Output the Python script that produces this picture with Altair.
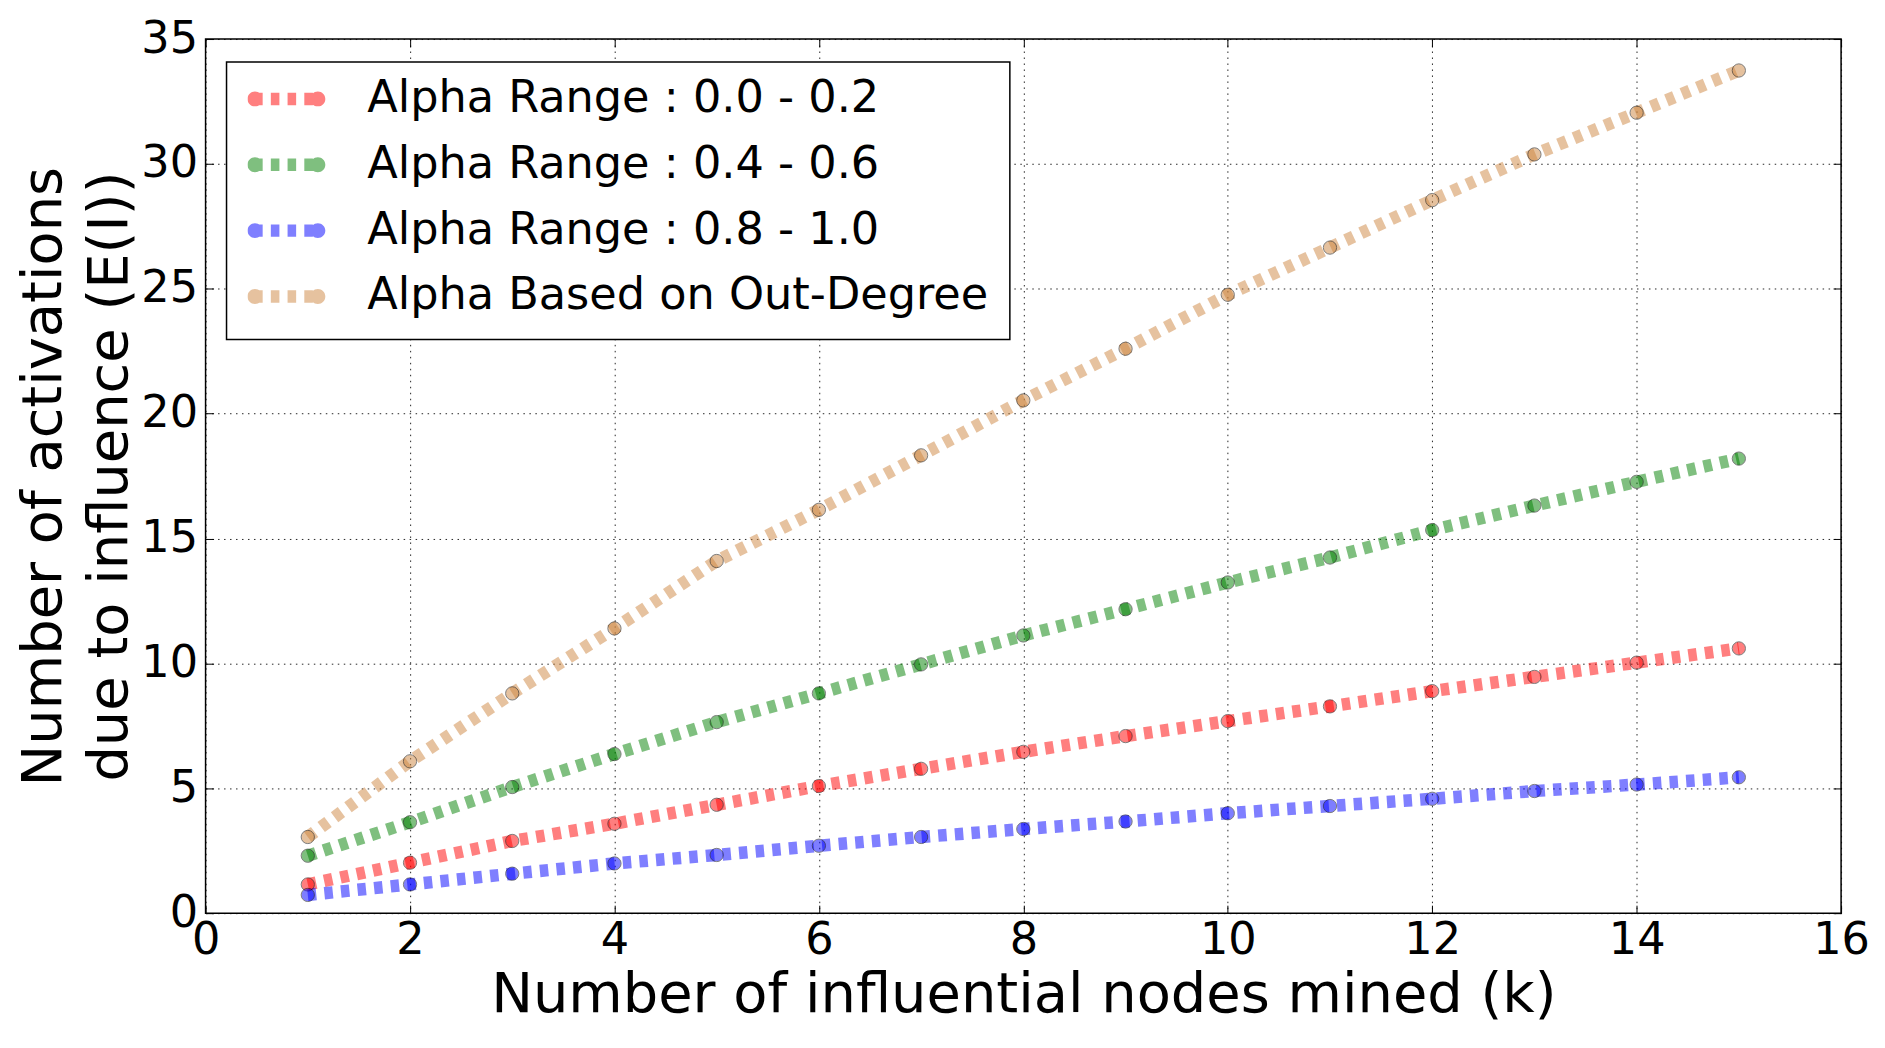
import altair as alt
import pandas as pd

# ---------------- data ----------------
k_values = list(range(1, 16))
series_names = [
    "Alpha Range : 0.0 - 0.2",
    "Alpha Range : 0.4 - 0.6",
    "Alpha Range : 0.8 - 1.0",
    "Alpha Based on Out-Degree",
]
red_vals = [1.15, 2.02, 2.89, 3.58, 4.34, 5.09, 5.78, 6.46, 7.09, 7.69, 8.28, 8.89, 9.46, 10.03, 10.60]
green_vals = [2.30, 3.64, 5.05, 6.37, 7.65, 8.80, 9.96, 11.12, 12.17, 13.24, 14.24, 15.34, 16.32, 17.27, 18.20]
blue_vals = [0.73, 1.15, 1.58, 1.99, 2.33, 2.70, 3.05, 3.37, 3.67, 4.00, 4.29, 4.58, 4.89, 5.15, 5.44]
orange_vals = [3.05, 6.08, 8.80, 11.40, 14.10, 16.15, 18.33, 20.53, 22.60, 24.76, 26.65, 28.55, 30.38, 32.05, 33.74]
series_colors = ["#ff0000", "#008000", "#0000ff", "#cd853f"]
x_ticks = [0, 2, 4, 6, 8, 10, 12, 14, 16]
y_ticks = [0, 5, 10, 15, 20, 25, 30, 35]
x_title = "Number of influential nodes mined (k)"
y_title = ["Number of activations", "due to influence (E(I))"]

rows = []
for name, vals in zip(series_names, [red_vals, green_vals, blue_vals, orange_vals]):
    for kk, v in zip(k_values, vals):
        rows.append({"series": name, "k": kk, "value": v})
df = pd.DataFrame(rows)

# ---------------- legend symbol (dashed line with two markers) ----------------
def rect(x0, x1, h=0.16):
    return f"M{x0},{-h}H{x1}V{h}H{x0}Z"

def circ(cx, r=0.192):
    return f"M{cx + r},0A{r},{r} 0 1,1 {cx - r},0A{r},{r} 0 1,1 {cx + r},0Z"

symbol_path = "".join(
    [rect(-0.83, -0.61), rect(-0.40, -0.18), rect(0.03, 0.25), rect(0.46, 0.68), circ(-0.808), circ(0.808)]
)

W, H = 1639, 876
FONT = "DejaVu Sans"
LABEL_SIZE = 44.7
TITLE_SIZE = 56

xscale = alt.Scale(domain=[0, 16], nice=False, zero=False)
yscale = alt.Scale(domain=[0, 35], nice=False, zero=False)
cscale = alt.Scale(domain=series_names, range=series_colors)

# layer carrying the legend (zero-size points, draws nothing itself)
legend_layer = alt.Chart(df).mark_circle(size=0, opacity=0.5, strokeWidth=0).encode(
    x=alt.X("k:Q", scale=xscale, axis=None),
    y=alt.Y("value:Q", scale=yscale, axis=None),
    color=alt.Color(
        "series:N",
        scale=cscale,
        legend=alt.Legend(
            title=None, orient="none", legendX=21, legendY=23,
            symbolType=symbol_path, symbolSize=6084, symbolStrokeWidth=0,
            symbolOpacity=0.5, labelFontSize=LABEL_SIZE, labelFont=FONT, labelColor="black",
            labelOffset=42, labelLimit=2000, clipHeight=32, rowPadding=21,
            padding=21, fillColor="white", strokeColor="black",
        ),
    ),
)

lines = alt.Chart(df).mark_line(
    strokeWidth=12.5, strokeDash=[8.5, 8.2], strokeCap="butt", opacity=0.5
).encode(
    x=alt.X(
        "k:Q",
        scale=xscale,
        axis=alt.Axis(
            orient="bottom", values=x_ticks, title=x_title, offset=-8, tickSize=8,
            labelPadding=5, grid=True, titleX=W / 2, titleY=107,
            titleBaseline="alphabetic", titleAlign="center",
        ),
    ),
    y=alt.Y(
        "value:Q",
        scale=yscale,
        axis=alt.Axis(
            orient="left", values=y_ticks, title=y_title, offset=-8, tickSize=8,
            labelPadding=8, grid=True, titleX=-153.4, titleY=H / 2, titleAngle=270,
            titleBaseline="alphabetic", titleAlign="center", titleLineHeight=66,
        ),
    ),
    color=alt.Color("series:N", scale=cscale),
)

points = alt.Chart(df).mark_circle(
    size=177, opacity=0.5, stroke="black", strokeWidth=1
).encode(
    x=alt.X(
        "k:Q",
        scale=xscale,
        axis=alt.Axis(orient="top", values=x_ticks, title=None, offset=-8, tickSize=8,
                      labels=False, grid=False),
    ),
    y=alt.Y(
        "value:Q",
        scale=yscale,
        axis=alt.Axis(orient="right", values=y_ticks, title=None, offset=-8, tickSize=8,
                      labels=False, grid=False),
    ),
    color=alt.Color("series:N", scale=cscale),
)

chart = (
    alt.layer(legend_layer, lines, points)
    .resolve_scale(x="independent", y="independent")
    .properties(
        width=W,
        height=H,
        autosize=alt.AutoSizeParams(type="none"),
        padding={"left": 198, "top": 30, "right": 36, "bottom": 118},
        background="white",
    )
    .configure(font=FONT)
    .configure_view(stroke="black", strokeWidth=1.5)
    .configure_axis(
        labelFont=FONT, labelFontSize=LABEL_SIZE, labelColor="black", labelFlush=False,
        labelOverlap=False, titleFont=FONT, titleFontSize=TITLE_SIZE, titleFontWeight="normal",
        titleColor="black", tickColor="black", tickWidth=1, domain=False,
        gridColor="black", gridDash=[1.5, 4.5], gridWidth=1, gridOpacity=0.85,
    )
    .configure_legend(strokeWidth=1.5, cornerRadius=0)
)

chart.save("out.html", embed_options={"renderer": "svg", "actions": False})
